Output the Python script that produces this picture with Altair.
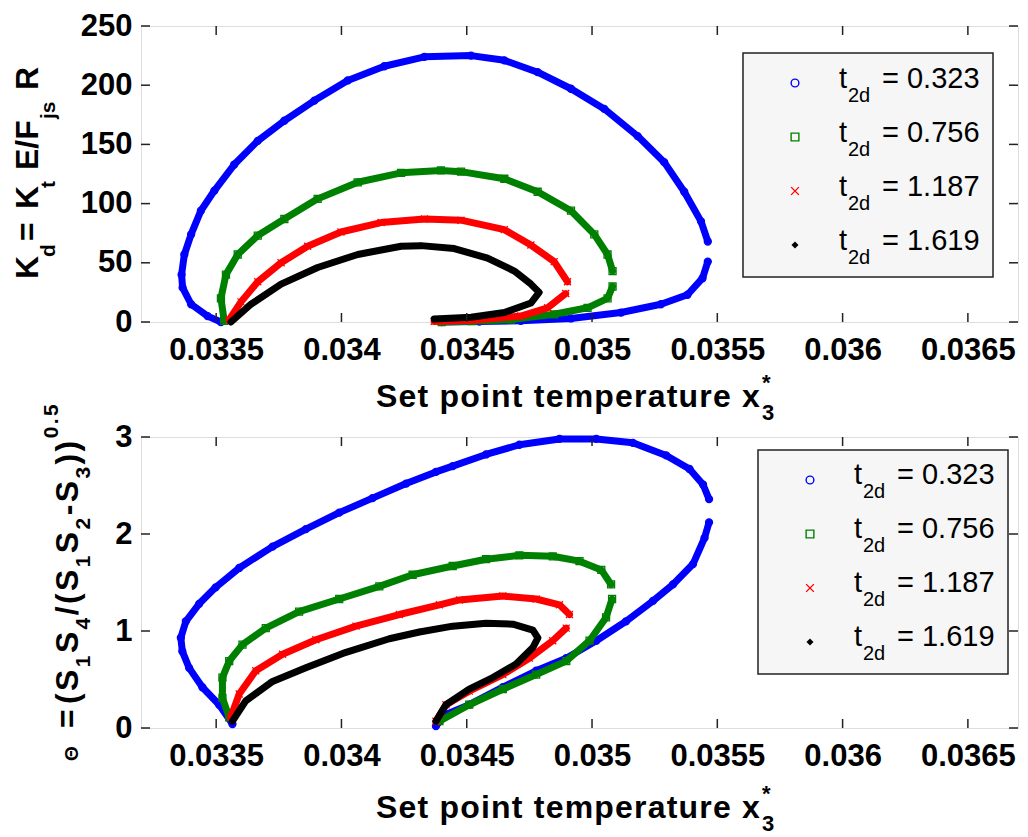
import altair as alt
import pandas as pd

FONT = "Liberation Sans"

# ---------------- axes / categories ----------------
x_domain = [0.0332, 0.0367]
x_ticks = [0.0335, 0.034, 0.0345, 0.035, 0.0355, 0.036, 0.0365]
top_y_domain = [0, 250]
top_y_ticks = [0, 50, 100, 150, 200, 250]
bot_y_domain = [0, 3]
bot_y_ticks = [0, 1, 2, 3]

t2d_values = ["0.323", "0.756", "1.187", "1.619"]
series_names = ["t2d = " + v for v in t2d_values]
series_colors = ["#0000ff", "#008000", "#ff0000", "#000000"]
series_shapes = ["circle", "square", "M-1,-1L1,1M-1,1L1,-1", "diamond"]

# ---------------- top panel: K_d ----------------
top_blue_a_x = [0.033519, 0.033466, 0.033400, 0.033366, 0.033362, 0.033373, 0.033400, 0.033439,
                0.033493, 0.033572, 0.033666, 0.033772, 0.033892, 0.034025, 0.034171, 0.034331,
                0.034517, 0.034650, 0.034783, 0.034916, 0.035049, 0.035182, 0.035288, 0.035368,
                0.035435, 0.035462]
top_blue_a_y = [0, 5, 15, 29, 40, 57, 74, 94, 111, 133, 153, 170, 187, 204, 216, 224,
                225, 221, 211, 197, 180, 157, 135, 110, 85, 68]
top_blue_b_x = [0.035462, 0.035441, 0.035381, 0.035275, 0.035116, 0.034916, 0.034716, 0.034550, 0.034400]
top_blue_b_y = [51, 37, 23, 15, 8, 3, 1, 0.4, 0]

top_green_a_x = [0.033532, 0.033519, 0.033539, 0.033586, 0.033666, 0.033772, 0.033905, 0.034065,
                 0.034238, 0.034397, 0.034477, 0.034650, 0.034783, 0.034916, 0.035009, 0.035062, 0.035082]
top_green_a_y = [1, 20, 40, 57, 73, 87, 104, 118, 126, 128, 127, 121, 110, 94, 74, 57, 43]
top_green_b_x = [0.035082, 0.035062, 0.034982, 0.034849, 0.034677, 0.034520, 0.034400]
top_green_b_y = [30, 20, 12, 6.5, 2, 0.7, 0]

top_red_a_x = [0.033552, 0.033599, 0.033666, 0.033759, 0.033865, 0.033998, 0.034158, 0.034331,
               0.034477, 0.034650, 0.034756, 0.034849, 0.034902]
top_red_a_y = [2, 17, 34, 50, 64, 76, 84, 87, 86, 78, 65, 51, 34]
top_red_b_x = [0.034895, 0.034823, 0.034716, 0.034517, 0.034370]
top_red_b_y = [24, 12, 5, 1.5, 0.5]

top_black_x = [0.033559, 0.033639, 0.033759, 0.033905, 0.034065, 0.034238, 0.034317, 0.034450,
               0.034583, 0.034690, 0.034756, 0.034789, 0.034756, 0.034650, 0.034517, 0.034370]
top_black_y = [0, 15, 32, 46, 57, 64, 64.5, 62, 54, 43, 32, 25, 16, 8, 4, 2.5]

# ---------------- bottom panel: Theta ----------------
bot_blue_a_x = [0.033565, 0.033512, 0.033445, 0.033392, 0.033365, 0.033359, 0.033379, 0.033432,
                0.033498, 0.033592, 0.033725, 0.033858, 0.033991, 0.034124, 0.034258, 0.034377,
                0.034444, 0.034577, 0.034710, 0.034870, 0.035017, 0.035163, 0.035296, 0.035389,
                0.035443, 0.035467]
bot_blue_a_y = [0.04, 0.24, 0.42, 0.62, 0.79, 0.93, 1.10, 1.28, 1.45, 1.65, 1.87, 2.05, 2.22,
                2.37, 2.52, 2.64, 2.70, 2.82, 2.92, 2.98, 2.98, 2.94, 2.81, 2.67, 2.51, 2.36]
bot_blue_b_x = [0.035467, 0.035449, 0.035403, 0.035323, 0.035243, 0.035136, 0.035017, 0.034897,
                0.034777, 0.034644, 0.034510, 0.034417, 0.034377]
bot_blue_b_y = [2.12, 1.96, 1.69, 1.48, 1.31, 1.10, 0.90, 0.72, 0.59, 0.42, 0.24, 0.14, 0.02]

bot_green_a_x = [0.033552, 0.033525, 0.033525, 0.033552, 0.033605, 0.033698, 0.033831, 0.033991,
                 0.034151, 0.034284, 0.034444, 0.034577, 0.034710, 0.034843, 0.034950, 0.035037, 0.035076]
bot_green_a_y = [0.11, 0.31, 0.52, 0.69, 0.86, 1.03, 1.20, 1.33, 1.46, 1.58, 1.67, 1.74, 1.78,
                 1.77, 1.72, 1.63, 1.48]
bot_green_b_x = [0.035080, 0.035056, 0.034990, 0.034897, 0.034777, 0.034644, 0.034510, 0.034391]
bot_green_b_y = [1.33, 1.14, 0.90, 0.69, 0.55, 0.40, 0.24, 0.07]

bot_red_a_x = [0.033558, 0.033592, 0.033658, 0.033765, 0.033898, 0.034058, 0.034231, 0.034391,
               0.034471, 0.034644, 0.034777, 0.034870, 0.034910]
bot_red_a_y = [0.11, 0.35, 0.59, 0.76, 0.91, 1.05, 1.17, 1.27, 1.32, 1.36, 1.33, 1.27, 1.17]
bot_red_b_x = [0.034897, 0.034843, 0.034750, 0.034644, 0.034510, 0.034417, 0.034377]
bot_red_b_y = [1.03, 0.90, 0.72, 0.55, 0.38, 0.24, 0.07]

bot_black_x = [0.033565, 0.033618, 0.033725, 0.033858, 0.034018, 0.034191, 0.034311, 0.034444,
               0.034577, 0.034684, 0.034764, 0.034784, 0.034764, 0.034697, 0.034604, 0.034510,
               0.034417, 0.034377]
bot_black_y = [0.07, 0.28, 0.48, 0.62, 0.78, 0.92, 0.99, 1.05, 1.08, 1.07, 1.01, 0.93, 0.83,
               0.66, 0.52, 0.40, 0.24, 0.07]

top_curves = [
    [(top_blue_a_x, top_blue_a_y), (top_blue_b_x, top_blue_b_y)],
    [(top_green_a_x, top_green_a_y), (top_green_b_x, top_green_b_y)],
    [(top_red_a_x, top_red_a_y), (top_red_b_x, top_red_b_y)],
    [(top_black_x, top_black_y)],
]
bot_curves = [
    [(bot_blue_a_x, bot_blue_a_y), (bot_blue_b_x, bot_blue_b_y)],
    [(bot_green_a_x, bot_green_a_y), (bot_green_b_x, bot_green_b_y)],
    [(bot_red_a_x, bot_red_a_y), (bot_red_b_x, bot_red_b_y)],
    [(bot_black_x, bot_black_y)],
]

# Arial/Liberation Sans Bold advance widths (per 1000 em)
BOLD_W = {" ": 278, "(": 333, ")": 333, "*": 389, "-": 333, ".": 278, "/": 278, "=": 584,
          "E": 667, "F": 611, "K": 722, "R": 722, "S": 667, "Θ": 778, "a": 556, "d": 611,
          "e": 556, "i": 278, "j": 278, "m": 889, "n": 611, "o": 611, "p": 611, "r": 389,
          "s": 556, "t": 333, "u": 611, "x": 556}


def run_chars(text, start, size, ls, base, perp, vertical):
    rows, pos = [], start
    for ch in text:
        if ch != " ":
            if vertical:
                rows.append({"c": ch, "px": base + perp, "py": pos, "s": size})
            else:
                rows.append({"c": ch, "px": pos, "py": base + perp, "s": size})
        adv = BOLD_W.get(ch, 556) * size / 1000 + ls
        pos = pos - adv if vertical else pos + adv
    return rows, pos


def run_seq(seq, start, ls, base, vertical):
    rows, pos = [], start
    for text, size, perp in seq:
        r, pos = run_chars(text, pos, size, ls, base, perp, vertical)
        rows += r
    return rows


def curve_frame(curves):
    rows = []
    for s, segs in enumerate(curves):
        for k, (xs, ys) in enumerate(segs):
            for xv, yv in zip(xs, ys):
                rows.append({"series": series_names[s], "sid": s, "seg": f"{s}-{k}",
                             "i": len(rows), "x": xv, "y": yv})
    return pd.DataFrame(rows)


def xtitle_rows(base_y):
    r1, pos = run_chars("Set point temperature x", 235, 32, 1.2, base_y, 0, False)
    r2, _ = run_chars("3", pos + 1, 22, 0, base_y, 13, False)
    r3, _ = run_chars("*", pos + 1, 22, 0, base_y, -17, False)
    return r1 + r2 + r3


def panel(curves, y_domain, y_ticks, W, H, box, mk, txt, title_v_rows):
    df = curve_frame(curves)
    xs = alt.Scale(domain=x_domain, nice=False, zero=False)
    ys = alt.Scale(domain=y_domain, nice=False, zero=False)
    common = dict(title=None, grid=False, domain=False, ticks=False, tickSize=0,
                  labelFont=FONT, labelFontSize=31, labelFontWeight="bold",
                  labelColor="black", labelOverlap=False, labelFlush=False)
    xax = alt.Axis(values=x_ticks, format="~g", labelPadding=13, **common)
    yax = alt.Axis(values=y_ticks, labelPadding=9, **common)

    def X(f):
        return alt.X(f, scale=xs, axis=xax)

    def Y(f):
        return alt.Y(f, scale=ys, axis=yax)

    color = alt.Color("series:N", scale=alt.Scale(domain=series_names, range=series_colors), legend=None)
    shape = alt.Shape("series:N", scale=alt.Scale(domain=series_names, range=series_shapes), legend=None)

    layers = []
    base = alt.Chart(df)
    for s in range(4):
        f = base.transform_filter(f"datum.sid == {s}")
        layers.append(f.mark_line(strokeWidth=7, strokeJoin="round", strokeCap="round").encode(
            x=X("x:Q"), y=Y("y:Q"), color=color, detail="seg:N", order="i:Q"))
        if s < 3:
            layers.append(f.mark_point(filled=False, size=49, strokeWidth=1.3, opacity=1).encode(
                x=X("x:Q"), y=Y("y:Q"), color=color, shape=shape))
        else:
            layers.append(f.mark_point(filled=True, shape="diamond", size=45, color="black", opacity=1).encode(
                x=X("x:Q"), y=Y("y:Q")))

    # inward ticks on all four sides
    tx = alt.Chart(pd.DataFrame({"v": x_ticks}))
    ty = alt.Chart(pd.DataFrame({"v": y_ticks}))
    tick = dict(color="#222", strokeWidth=1.5)
    layers.append(tx.mark_rule(**tick).encode(x=X("v:Q"), y=alt.value(0), y2=alt.value(9)))
    layers.append(tx.mark_rule(**tick).encode(x=X("v:Q"), y=alt.value(H - 9), y2=alt.value(H)))
    layers.append(ty.mark_rule(**tick).encode(y=Y("v:Q"), x=alt.value(0), x2=alt.value(9)))
    layers.append(ty.mark_rule(**tick).encode(y=Y("v:Q"), x=alt.value(W - 9), x2=alt.value(W)))

    # legend box
    layers.append(alt.Chart(pd.DataFrame({"a": [0]})).mark_rect(
        fill="#f6f6f6", stroke="#222", strokeWidth=1.5).encode(
        x=alt.value(box[0]), x2=alt.value(box[1]), y=alt.value(box[2]), y2=alt.value(box[3])))
    leg = pd.DataFrame({"series": series_names, "sid": [0, 1, 2, 3],
                        "px": [mk[0]] * 4, "py": [mk[1] + 54 * k for k in range(4)]})
    lc = alt.Chart(leg)
    layers.append(lc.transform_filter("datum.sid < 3").mark_point(
        filled=False, size=60, strokeWidth=1.4, opacity=1).encode(
        x=alt.X("px:Q", scale=None), y=alt.Y("py:Q", scale=None), color=color, shape=shape))
    layers.append(lc.transform_filter("datum.sid == 3").mark_point(
        filled=True, shape="diamond", size=50, color="black", opacity=1).encode(
        x=alt.X("px:Q", scale=None), y=alt.Y("py:Q", scale=None)))
    ltxt = []
    for k, v in enumerate(t2d_values):
        yb = txt[1] + 54 * k
        ltxt.append({"c": "t", "px": txt[0], "py": yb, "s": 29})
        ltxt.append({"c": "2d", "px": txt[0] + 9, "py": yb + 14, "s": 20})
        ltxt.append({"c": "= " + v, "px": txt[0] + 43, "py": yb, "s": 29})
    layers.append(alt.Chart(pd.DataFrame(ltxt)).mark_text(
        align="left", baseline="alphabetic", font=FONT, color="black").encode(
        x=alt.X("px:Q", scale=None), y=alt.Y("py:Q", scale=None), text="c:N",
        size=alt.Size("s:Q", scale=None)))

    # axis titles (with sub/superscripts)
    layers.append(alt.Chart(pd.DataFrame(xtitle_rows(381))).mark_text(
        align="left", baseline="alphabetic", font=FONT, fontWeight="bold", color="black").encode(
        x=alt.X("px:Q", scale=None), y=alt.Y("py:Q", scale=None), text="c:N",
        size=alt.Size("s:Q", scale=None)))
    layers.append(alt.Chart(pd.DataFrame(title_v_rows)).mark_text(
        angle=270, align="left", baseline="alphabetic", font=FONT, fontWeight="bold", color="black").encode(
        x=alt.X("px:Q", scale=None), y=alt.Y("py:Q", scale=None), text="c:N",
        size=alt.Size("s:Q", scale=None)))

    return alt.layer(*layers).properties(width=W, height=H)


# y-title rows
top_vt = []
for text, start, size, perp, ls in [("K", 253, 32, 0, 0), ("d", 231, 21, 17, 0), ("=", 215, 32, 0, 0),
                                    ("K", 183, 32, 0, 0), ("t", 162, 21, 17, 0), ("E/F", 144, 32, 0, 0),
                                    ("js", 93, 21, 17, 0), ("R", 64, 32, 0, 0)]:
    r, _ = run_chars(text, start, size, ls, -103, perp, True)
    top_vt += r

bot_vt = []
r, _ = run_chars("Θ", 324, 19, 0, -63, 0, True)
bot_vt += r
r, _ = run_chars("=", 291, 32, 0, -63, 0, True)
bot_vt += r
bot_vt += run_seq([("(", 32, 0), ("S", 32, 0), ("1", 21, 12), ("S", 32, 0), ("4", 21, 12),
                   ("/(", 32, 0), ("S", 32, 0), ("1", 21, 12), ("S", 32, 0), ("2", 21, 12),
                   ("-S", 32, 0), ("3", 21, 12), ("))", 32, 0), ("0.5", 21, -20)],
                  267, 2.4, -63, True)

top = panel(top_curves, top_y_domain, top_y_ticks, 877, 296,
            box=(602, 852, 27, 251), mk=(654, 57), txt=(698, 62), title_v_rows=top_vt)
bot = panel(bot_curves, bot_y_domain, bot_y_ticks, 877, 291,
            box=(617, 867, 13, 237), mk=(669, 43), txt=(713, 47), title_v_rows=bot_vt)

chart = alt.vconcat(top, bot, spacing=115, bounds="flush").properties(
    padding={"left": 11, "top": 9, "right": 2, "bottom": 2}
).configure_view(stroke="#222", strokeWidth=1.5).configure(background="white")

chart.save("out.html", embed_options={"renderer": "svg", "actions": False})
